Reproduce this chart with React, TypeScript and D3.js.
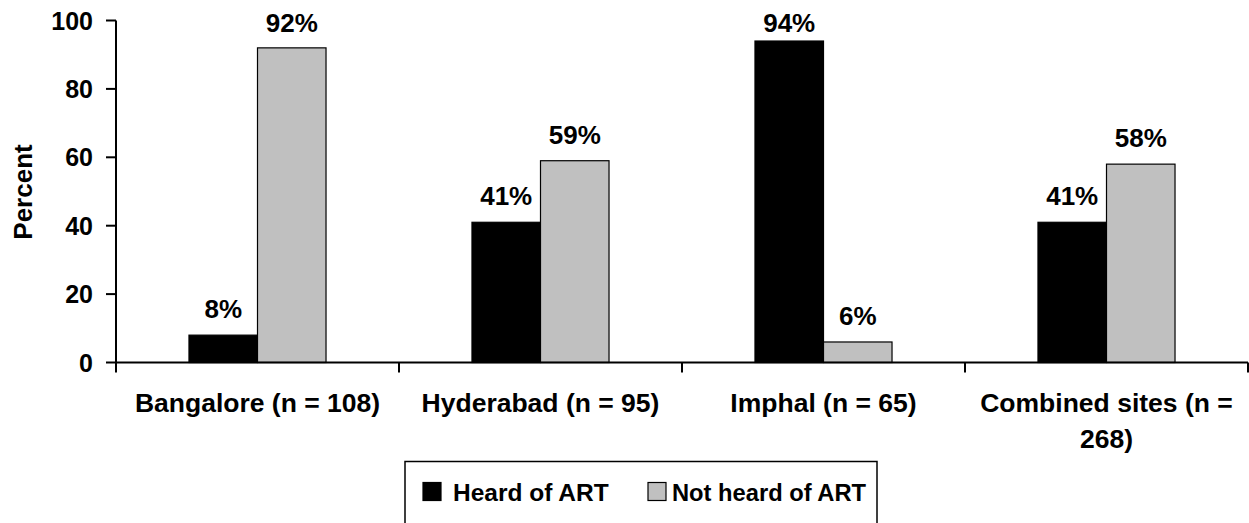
import React from "react";
import * as d3 from "d3";

const categories = ["Bangalore (n = 108)", "Hyderabad (n = 95)", "Imphal (n = 65)", "Combined sites (n = 268)"];
const categoryLines = [["Bangalore (n = 108)"], ["Hyderabad (n = 95)"], ["Imphal (n = 65)"], ["Combined sites (n =", "268)"]];
const seriesNames = ["Heard of ART", "Not heard of ART"];
const heard = [8, 41, 94, 41];
const notHeard = [92, 59, 6, 58];
const yTicks = [0, 20, 40, 60, 80, 100];
const colors = ["#000000", "#C0C0C0"];

const W = 1249;
const H = 523;
const FONT = "'Liberation Sans', Arial, Helvetica, sans-serif";

export default function App() {
  const x0 = d3.scaleBand<string>().domain(categories).range([116, 1248]).padding(0);
  const x1 = d3.scaleBand<string>().domain(seriesNames).range([0, x0.bandwidth()]).paddingInner(0).paddingOuter(1.065);
  const y = d3.scaleLinear().domain([0, 100]).range([362.5, 20.5]);
  const series = [heard, notHeard];
  const tickXs = categories.map((c) => x0(c)!).concat([x0(categories[categories.length - 1])! + x0.bandwidth()]);

  return (
    <svg width={W} height={H} style={{ position: "absolute", left: 0, top: 0, background: "#fff" }} fontFamily={FONT} fontWeight="bold">
      {categories.map((c, i) =>
        seriesNames.map((s, j) => {
          const v = series[j][i];
          const bx = x0(c)! + x1(s)!;
          return (
            <rect key={c + s} x={bx} y={y(v)} width={x1.bandwidth()} height={y(0) - y(v)} fill={colors[j]} stroke="#000" strokeWidth={1.2} />
          );
        })
      )}
      {categories.map((c, i) =>
        seriesNames.map((s, j) => {
          const v = series[j][i];
          const cx = x0(c)! + x1(s)! + x1.bandwidth() / 2;
          const by = Math.max(y(v) - 17, 31.7);
          return (
            <text key={"l" + c + s} x={cx} y={by} textAnchor="middle" fontSize={26} fill="#000">
              {v + "%"}
            </text>
          );
        })
      )}
      <line x1={116} x2={116} y1={y(100)} y2={y(0)} stroke="#000" strokeWidth={2} />
      {yTicks.map((t) => (
        <g key={t}>
          <line x1={106} x2={116} y1={y(t)} y2={y(t)} stroke="#000" strokeWidth={2} />
          <text x={93} y={y(t) + 9} textAnchor="end" fontSize={25} fill="#000">
            {t}
          </text>
        </g>
      ))}
      <text transform={`translate(32,${192}) rotate(-90)`} textAnchor="middle" fontSize={26} fill="#000">
        Percent
      </text>
      <line x1={116} x2={1248} y1={y(0)} y2={y(0)} stroke="#000" strokeWidth={2} />
      {tickXs.map((tx, i) => (
        <line key={"t" + i} x1={tx} x2={tx} y1={y(0)} y2={y(0) + 10} stroke="#000" strokeWidth={2} />
      ))}
      {categories.map((c, i) => (
        <text key={"c" + c} x={x0(c)! + x0.bandwidth() / 2} y={411.7} textAnchor="middle" fontSize={26.5} fill="#000">
          {categoryLines[i].map((ln, k) => (
            <tspan key={k} x={x0(c)! + x0.bandwidth() / 2} dy={k === 0 ? 0 : 36.5}>
              {ln}
            </tspan>
          ))}
        </text>
      ))}
      <rect x={405} y={461.5} width={472} height={90} fill="#fff" stroke="#000" strokeWidth={1.5} />
      <rect x={423} y={482.5} width={18} height={18} fill={colors[0]} stroke="#000" strokeWidth={1.2} />
      <text x={453} y={500.7} fontSize={24.5} fill="#000">{seriesNames[0]}</text>
      <rect x={648} y={482.5} width={18} height={18} fill={colors[1]} stroke="#000" strokeWidth={1.2} />
      <text x={672} y={500.7} fontSize={24} fill="#000" textLength={194} lengthAdjust="spacingAndGlyphs">{seriesNames[1]}</text>
    </svg>
  );
}
